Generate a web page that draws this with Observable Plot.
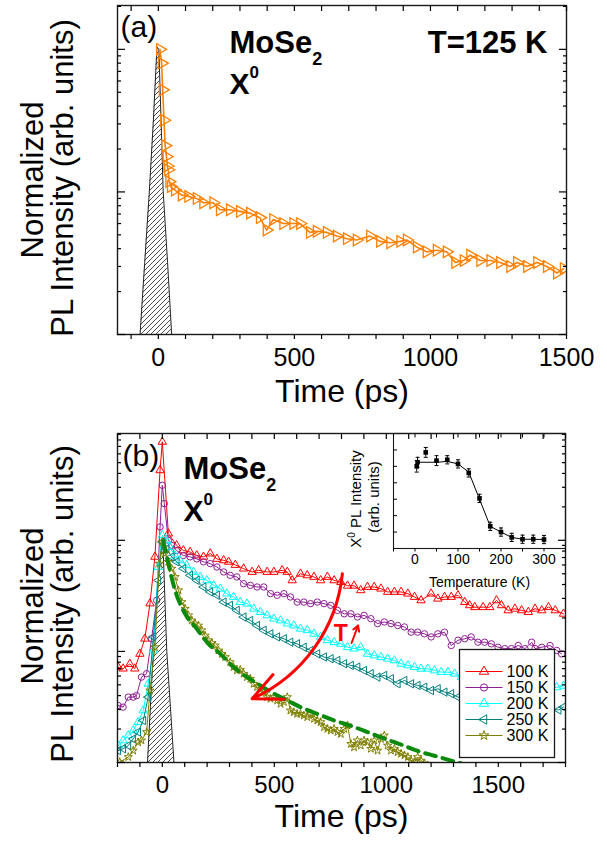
<!DOCTYPE html>
<html><head><meta charset="utf-8">
<script src="https://cdn.jsdelivr.net/npm/d3@7"></script>
<script src="https://cdn.jsdelivr.net/npm/@observablehq/plot@0.6"></script>
<style>
html,body{margin:0;padding:0;background:#fff;}
#fig{position:relative;width:607px;height:841px;overflow:hidden;background:#fff;}
</style></head><body><div id="fig"></div>
<script>
// ---------------- Panel (a): T = 125 K ----------------
const timeA = [6,12,16,21,25,30,33,36,40,46,61,86,110,141,165,202,226,263,300,337,373,398,422,459,496,521,557,582,619,656,693,729,778,815,852,889,913,950,986,1023,1060,1091,1122,1146,1183,1220,1256,1293,1318,1355,1392,1428,1465,1490];
const intA  = [1.0,0.80,0.52,0.318,0.211,0.177,0.152,0.143,0.118,0.109,0.103,0.095,0.093,0.090,0.084,0.084,0.075,0.075,0.073,0.071,0.066,0.054,0.064,0.060,0.060,0.060,0.052,0.053,0.052,0.049,0.047,0.046,0.049,0.045,0.044,0.045,0.046,0.041,0.038,0.039,0.038,0.032,0.033,0.036,0.033,0.033,0.032,0.030,0.032,0.030,0.032,0.030,0.027,0.029];
const irfTimeA = [-67,-50,-33,-18,-5,2,10,18,34,49];
const irfIntA  = [0.01,0.032,0.1,0.32,1.04,1.0,0.32,0.1,0.032,0.01];

// ---------------- Panel (b): temperature series ----------------
const seriesNames = ["100 K","150 K","200 K","250 K","300 K"];
const t100 = [-197,-175,-145,-123,-100,-78,-55,-33,-10,0,27,64,94,124,154,184,214,244,274,296,326,363,401,430,468,498,535,558,580,617,647,677,707,737,767,797,827,856,886,916,946,976,1006,1036,1066,1096,1126,1155,1200,1230,1260,1290,1320,1350,1372,1395,1432,1462,1492,1514,1544,1574,1604,1634,1664,1694,1724,1754,1791];
const v100 = [0.072,0.070,0.077,0.070,0.095,0.130,0.27,0.71,4.27,7.7,1.15,0.90,0.81,0.785,0.73,0.71,0.76,0.68,0.66,0.64,0.60,0.556,0.519,0.537,0.519,0.519,0.537,0.519,0.436,0.50,0.484,0.468,0.436,0.468,0.436,0.42,0.39,0.39,0.355,0.38,0.38,0.367,0.343,0.343,0.343,0.331,0.309,0.288,0.331,0.298,0.309,0.309,0.32,0.278,0.26,0.25,0.25,0.25,0.288,0.26,0.234,0.242,0.234,0.226,0.242,0.234,0.25,0.234,0.218];
const t150 = [-197,-175,-152,-130,-115,-93,-70,-48,-25,-10,0,9,27,42,64,94,124,154,184,214,244,274,303,333,363,393,423,453,483,513,543,572,602,632,662,692,722,752,782,812,842,871,901,931,961,991,1021,1051,1081,1111,1140,1170,1200,1230,1260,1290,1320,1350,1379,1409,1439,1469,1499,1529,1559,1589,1619,1649,1664,1694,1731,1761,1783];
const v150 = [0.0326,0.0315,0.0388,0.0388,0.040,0.0587,0.063,0.130,0.288,1.32,3.13,2.14,1.0,0.90,0.81,0.73,0.71,0.68,0.64,0.617,0.575,0.519,0.484,0.468,0.407,0.393,0.38,0.38,0.331,0.32,0.331,0.309,0.278,0.278,0.269,0.278,0.269,0.26,0.234,0.218,0.218,0.204,0.211,0.197,0.178,0.184,0.178,0.171,0.166,0.149,0.149,0.144,0.135,0.144,0.149,0.113,0.126,0.130,0.135,0.121,0.121,0.117,0.109,0.106,0.106,0.113,0.106,0.121,0.106,0.109,0.113,0.102,0.095];
const t200 = [-197,-175,-152,-130,-108,-85,-63,-40,-18,0,19,34,57,79,109,139,169,199,229,259,288,318,348,378,408,438,468,498,528,558,587,617,647,677,707,737,767,797,827,856,886,916,946,976,1006,1036,1066,1096,1126,1155,1185,1215,1245,1275,1305,1335,1364,1409,1454,1499,1544,1589,1634,1679,1723,1761,1791];
const v200 = [0.0142,0.0158,0.0175,0.0194,0.0231,0.0294,0.0511,0.102,0.575,1.11,1.0,0.87,0.73,0.66,0.596,0.519,0.468,0.436,0.393,0.367,0.331,0.309,0.278,0.269,0.242,0.226,0.211,0.197,0.19,0.178,0.171,0.16,0.155,0.144,0.135,0.126,0.121,0.117,0.109,0.106,0.109,0.095,0.092,0.089,0.086,0.083,0.0774,0.0748,0.0723,0.0698,0.0698,0.0674,0.0651,0.0651,0.063,0.0587,0.0587,0.0567,0.0548,0.053,0.052,0.051,0.050,0.049,0.048,0.0475,0.049];
const t250 = [-197,-175,-152,-130,-108,-85,-63,-40,-18,0,19,42,64,94,124,154,184,214,244,274,303,333,363,393,423,453,483,513,543,572,602,632,662,692,722,752,782,812,842,871,901,931,961,991,1021,1051,1081,1111,1140,1170,1200,1230,1260,1290,1320,1364,1409,1454,1499,1544,1589,1634,1679,1723,1769,1791];
const v250 = [0.0128,0.0133,0.0142,0.0163,0.0188,0.0239,0.0388,0.135,0.436,0.966,0.84,0.71,0.64,0.556,0.484,0.436,0.38,0.343,0.32,0.278,0.26,0.234,0.204,0.19,0.171,0.155,0.144,0.135,0.13,0.121,0.117,0.109,0.102,0.095,0.089,0.086,0.083,0.0774,0.0748,0.0723,0.0674,0.063,0.0587,0.0608,0.0567,0.0511,0.0548,0.0511,0.0494,0.0477,0.0445,0.0461,0.043,0.0416,0.0388,0.0375,0.0362,0.035,0.0338,0.0333,0.0324,0.0319,0.031,0.0304,0.0297,0.0316];
const t300 = [-190,-152,-130,-108,-93,-70,-55,-33,-13,0,12,27,42,57,72,87,102,117,132,146,161,176,191,206,221,236,251,266,281,303,318,333,348,363,378,393,408,423,438,453,468,483,498,513,528,543,558,572,587,602,617,632,647,662,677,692,707,722,737,752,767,782,797,812,827,842,856,871,886,901,916,931,946,961,976,991,1006,1021,1036,1051,1066,1081,1096,1111,1126,1140,1155,1170,1185];
const v300 = [0.0101,0.0112,0.0128,0.0152,0.0158,0.0188,0.0445,0.109,0.617,0.966,0.76,0.64,0.556,0.468,0.355,0.278,0.242,0.211,0.19,0.178,0.171,0.155,0.139,0.126,0.119,0.113,0.102,0.095,0.089,0.080,0.0723,0.0674,0.0684,0.063,0.0587,0.0567,0.0511,0.0477,0.0461,0.043,0.0388,0.0375,0.0388,0.0362,0.0338,0.035,0.0388,0.0294,0.0284,0.0274,0.0274,0.0265,0.0256,0.0274,0.0247,0.0239,0.0231,0.0208,0.0201,0.0194,0.0201,0.0188,0.0181,0.0201,0.0216,0.0147,0.0137,0.0158,0.0142,0.0158,0.0152,0.0133,0.0158,0.0128,0.0163,0.0175,0.0142,0.0128,0.0133,0.0124,0.012,0.0116,0.0112,0.0104,0.0101,0.0112,0.0104,0.0098,0.0094];
const tFit = [4,27,57,102,154,206,259,318,378,438,498,558,617,692,767,842,916,991,1066,1140,1215,1290,1335];
const vFit = [0.99,0.617,0.355,0.218,0.160,0.117,0.095,0.0723,0.0587,0.0494,0.0416,0.0362,0.0315,0.0274,0.0239,0.0214,0.0188,0.0164,0.0145,0.0127,0.0115,0.0104,0.0098];
const irfTimeB = [-66,-53,-40,-24,-3,3,11,20,36,52];
const irfIntB  = [0.01,0.032,0.1,0.32,1.0,0.95,0.32,0.1,0.032,0.01];

// annotations (data coordinates)
const bigArrow = [{t1: 804, v1: 0.50, t2: 401, v2: 0.0375}];
const smallArrow = [{t1: 845, v1: 0.119, t2: 874, v2: 0.171}];
const tLabel = [{t: 797, v: 0.144, label: "T"}];

// ---------------- Inset ----------------
const insetT   = [4,6,25,50,75,100,125,150,175,200,225,250,275,300];
const insetV   = [1.00,1.05,1.17,1.07,1.08,1.03,0.92,0.61,0.27,0.20,0.135,0.113,0.113,0.109];
const insetErr = [0.07,0.06,0.06,0.06,0.05,0.05,0.05,0.05,0.05,0.05,0.05,0.05,0.05,0.05];
const insetFitT = [4,50,75,100,125,150,175,200,225,250,300];
const insetFitV = [1.05,1.05,1.06,1.03,0.93,0.60,0.27,0.20,0.135,0.113,0.11];

// ---------------- ticks ----------------
const xMajorA = [0,500,1000,1500];
const xMinorA = [-100,0,100,200,300,400,500,600,700,800,900,1000,1100,1200,1300,1400,1500];
const xMajorB = [0,500,1000,1500];
const xMinorB = [-200,-100,0,100,200,300,400,500,600,700,800,900,1000,1100,1200,1300,1400,1500,1600,1700,1800];
const yMajor = [0.01,0.1,1];
const insetXTicks = [-50,0,50,100,150,200,250,300,350];
const insetXLabels = [0,100,200,300];
const insetYTicks = [0.2,0.4,0.6,0.8,1.0,1.2];

// ---------------- helpers ----------------
const FONT = '"Liberation Sans", Arial, Helvetica, sans-serif';
function logMinor(lo, hi){ const out=[]; for (let d=lo; d<hi; d*=10) for (let k=2;k<=9;k++){ const v=+(k*d).toPrecision(3); if (v<=hi) out.push(v);} return out; }
const s3 = Math.sqrt(3);
const triRight = {draw(c, size){ const h=Math.sqrt(size/(3*s3)); c.moveTo(2*h,0); c.lineTo(-h,-s3*h); c.lineTo(-h,s3*h); c.closePath(); }};
const triLeft  = {draw(c, size){ const h=Math.sqrt(size/(3*s3)); c.moveTo(-2*h,0); c.lineTo(h,-s3*h); c.lineTo(h,s3*h); c.closePath(); }};
const hbar = {draw(c, size){ const w=Math.sqrt(size/Math.PI); c.moveTo(-w,0); c.lineTo(w,0); }};
const rows = (ts, vs) => ts.map((t,i)=>({t, v: vs[i]}));
const noText = () => "";

function frameTicks(xMaj, xMin, yMaj, yMin, fs, pad){
  return [
    Plot.axisX(xMin, {anchor:"bottom", tickSize:5, tickFormat:noText, label:null, strokeWidth:1.2}),
    Plot.axisX(xMin, {anchor:"top", tickSize:-5, tickFormat:noText, label:null, strokeWidth:1.2}),
    Plot.axisX(xMaj, {anchor:"bottom", tickSize:0, tickPadding:pad, fontSize:fs, label:null, tickFormat: d => String(d)}),
    Plot.axisY(yMaj, {anchor:"left", tickSize:-8, tickFormat:noText, label:null, strokeWidth:1.2}),
    Plot.axisY(yMin, {anchor:"left", tickSize:-4, tickFormat:noText, label:null, strokeWidth:1.2}),
    Plot.axisY(yMaj, {anchor:"right", tickSize:-8, tickFormat:noText, label:null, strokeWidth:1.2}),
    Plot.axisY(yMin, {anchor:"right", tickSize:-4, tickFormat:noText, label:null, strokeWidth:1.2})
  ];
}
function addHatch(svg, id){
  const p = d3.select(svg).insert("defs", ":first-child").append("pattern")
    .attr("id", id).attr("patternUnits","userSpaceOnUse").attr("width",5).attr("height",5);
  p.append("rect").attr("width",5).attr("height",5).attr("fill","#fff");
  p.append("path").attr("d","M-1,1L1,-1M0,5L5,0M4,6L6,4").attr("stroke","#000").attr("stroke-width",0.7);
}
function richText(svg){
  d3.select(svg).selectAll("text").each(function(){
    const s = this.textContent;
    if (s === "MoSe2") { this.textContent = "MoSe"; d3.select(this).append("tspan").attr("dy", 12).attr("font-size", 18).text("2"); }
    else if (s === "X0") { this.textContent = "X"; d3.select(this).append("tspan").attr("dy", -16).attr("font-size", 17).text("0"); }
    else if (s === "X0 PL Intensity") { this.textContent = "X"; const t=d3.select(this);
      t.append("tspan").attr("dy", -6).attr("font-size", 10).text("0");
      t.append("tspan").attr("dy", 6).attr("font-size", 15).text(" PL Intensity"); }
  });
}
function labels(opts){
  const m = [];
  m.push(Plot.text([opts.panel], {frameAnchor:"top-left", dx:opts.pdx, dy:opts.pdy, textAnchor:"start", lineAnchor:"bottom", fontSize:30, fill:"#000"}));
  m.push(Plot.text(["MoSe2"], {frameAnchor:"top-left", dx:opts.mdx, dy:opts.mdy, textAnchor:"start", lineAnchor:"bottom", fontSize:31, fontWeight:"bold", fill:"#000"}));
  m.push(Plot.text(["X0"], {frameAnchor:"top-left", dx:opts.mdx, dy:opts.xdy, textAnchor:"start", lineAnchor:"bottom", fontSize:30, fontWeight:"bold", fill:"#000"}));
  m.push(Plot.text(["Normalized"], {frameAnchor:"left", rotate:-90, dx:-75, dy:opts.ldy, textAnchor:"middle", lineAnchor:"bottom", fontSize:31, fill:"#000"}));
  m.push(Plot.text(["PL Intensity (arb. units)"], {frameAnchor:"left", rotate:-90, dx:-45, dy:opts.ldy-2, textAnchor:"middle", lineAnchor:"bottom", fontSize:31, fill:"#000"}));
  m.push(Plot.text(["Time (ps)"], {frameAnchor:"bottom", dy:opts.tdy, textAnchor:"middle", lineAnchor:"middle", fontSize:32, fill:"#000"}));
  return m;
}
const fig = document.getElementById("fig");

// ---------------- Panel (a) ----------------
const plotA = Plot.plot({
  width: 607, height: 420,
  marginTop: 5, marginRight: 41, marginBottom: 86, marginLeft: 117,
  style: {fontFamily: FONT, background: "transparent", overflow: "visible", position: "absolute", left: "0px", top: "0px"},
  x: {domain: [-150, 1500]},
  y: {type: "log", domain: [0.01, 2.03]},
  marks: [
    Plot.areaY(rows(irfTimeA, irfIntA), {x:"t", y1: () => 0.001, y2:"v", fill:"url(#hatchA)", clip:true}),
    Plot.line(rows(irfTimeA, irfIntA), {x:"t", y:"v", stroke:"#222", strokeWidth:1, clip:true}),
    Plot.line(rows(timeA, intA), {x:"t", y:"v", stroke:"#ff8000", strokeWidth:1.6, clip:true}),
    Plot.dot(rows(timeA, intA), {x:"t", y:"v", symbol: triRight, r:4.3, stroke:"#ff8000", fill:"none", strokeWidth:1.3, clip:true}),
    Plot.frame({stroke:"#1a1a1a", strokeWidth:1.4}),
    ...frameTicks(xMajorA, xMinorA, yMajor, logMinor(0.01, 2.03), 25, 14),
    ...labels({panel:"(a)", pdx:3, pdy:31, mdx:112, mdy:47, xdy:88, ldy:10, tdy:57}),
    Plot.text(["T=125 K"], {frameAnchor:"top-right", dx:-19, dy:47, textAnchor:"end", lineAnchor:"bottom", fontSize:31, fontWeight:"bold", fill:"#000"})
  ]
});
addHatch(plotA, "hatchA"); richText(plotA);
fig.appendChild(plotA);

// ---------------- Panel (b) ----------------
const seriesB = [
  {name: seriesNames[0], t: t100, v: v100, color: "#ff0000", symbol: "triangle", r: 3.1},
  {name: seriesNames[1], t: t150, v: v150, color: "#8e1f94", symbol: "circle", r: 3.2},
  {name: seriesNames[2], t: t200, v: v200, color: "#00ffff", symbol: "triangle", r: 3.1},
  {name: seriesNames[3], t: t250, v: v250, color: "#008080", symbol: triLeft, r: 3.1},
  {name: seriesNames[4], t: t300, v: v300, color: "#808000", symbol: "star", r: 2.6}
];
const plotB = Plot.plot({
  width: 607, height: 421,
  marginTop: 13, marginRight: 42, marginBottom: 79, marginLeft: 117,
  style: {fontFamily: FONT, background: "transparent", overflow: "visible", position: "absolute", left: "0px", top: "420px"},
  x: {domain: [-200, 1800]},
  y: {type: "log", domain: [0.01, 9.15]},
  marks: [
    Plot.areaY(rows(irfTimeB, irfIntB), {x:"t", y1: () => 0.001, y2:"v", fill:"url(#hatchB)", clip:true}),
    Plot.line(rows(irfTimeB, irfIntB), {x:"t", y:"v", stroke:"#222", strokeWidth:1, clip:true}),
    ...seriesB.flatMap(s => [
      Plot.line(rows(s.t, s.v), {x:"t", y:"v", stroke:s.color, strokeWidth:1, clip:true}),
      Plot.dot(rows(s.t, s.v), {x:"t", y:"v", symbol:s.symbol, r:s.r, stroke:s.color, fill:"none", strokeWidth:1, clip:true})
    ]),
    Plot.line(rows(tFit, vFit), {x:"t", y:"v", stroke:"#0a8a0a", strokeWidth:4, strokeDasharray:"11,7", curve:"monotone-x", clip:true}),
    Plot.arrow(bigArrow, {x1:"t1", y1:"v1", x2:"t2", y2:"v2", bend:30, stroke:"#ff0000", strokeWidth:3, headLength:16, headAngle:50}),
    Plot.arrow(smallArrow, {x1:"t1", y1:"v1", x2:"t2", y2:"v2", stroke:"#ff0000", strokeWidth:2, headLength:7, headAngle:60}),
    Plot.text(tLabel, {x:"t", y:"v", text:"label", fill:"#ff0000", fontSize:23, fontWeight:"bold", lineAnchor:"middle"}),
    Plot.frame({stroke:"#1a1a1a", strokeWidth:1.4}),
    ...frameTicks(xMajorB, xMinorB, yMajor, logMinor(0.01, 9.15), 24, 13),
    ...labels({panel:"(b)", pdx:5, pdy:32, mdx:66, mdy:45, xdy:87, ldy:8, tdy:54})
  ]
});
addHatch(plotB, "hatchB"); richText(plotB);
fig.appendChild(plotB);

// ---------------- Inset ----------------
const insetRows = insetT.map((T,i)=>({T, v: insetV[i], e: insetErr[i]}));
const insetPlot = Plot.plot({
  width: 270, height: 200,
  marginTop: 13, marginRight: 42, marginBottom: 72, marginLeft: 56,
  style: {fontFamily: FONT, background: "transparent", overflow: "visible", position: "absolute", left: "337px", top: "420px"},
  x: {domain: [-50, 350]},
  y: {domain: [0, 1.4]},
  marks: [
    Plot.frame({stroke:"#1a1a1a", strokeWidth:1.1}),
    Plot.axisX(insetXTicks, {anchor:"bottom", tickSize:3.5, tickFormat:noText, label:null}),
    Plot.axisX(insetXTicks, {anchor:"top", tickSize:-3.5, tickFormat:noText, label:null}),
    Plot.axisX(insetXLabels, {anchor:"bottom", tickSize:0, tickPadding:6, fontSize:14, label:null, tickFormat: d => String(d)}),
    Plot.axisY(insetYTicks, {anchor:"left", tickSize:-4, tickFormat:noText, label:null}),
    Plot.line(insetFitT.map((T,i)=>({T, v: insetFitV[i]})), {x:"T", y:"v", stroke:"#000", strokeWidth:1}),
    Plot.ruleX(insetRows, {x:"T", y1: d => d.v - d.e, y2: d => d.v + d.e, stroke:"#000", strokeWidth:1}),
    Plot.dot(insetRows, {x:"T", y: d => d.v + d.e, symbol: hbar, r:2, stroke:"#000", strokeWidth:1}),
    Plot.dot(insetRows, {x:"T", y: d => d.v - d.e, symbol: hbar, r:2, stroke:"#000", strokeWidth:1}),
    Plot.dot(insetRows, {x:"T", y:"v", symbol:"square", r:2.6, fill:"#000"}),
    Plot.text(["Temperature (K)"], {frameAnchor:"bottom", dy:34, textAnchor:"middle", lineAnchor:"middle", fontSize:14, fill:"#000"}),
    Plot.text(["X0 PL Intensity"], {frameAnchor:"left", rotate:-90, dx:-33, dy:8, textAnchor:"middle", lineAnchor:"bottom", fontSize:15, fill:"#000"}),
    Plot.text(["(arb. units)"], {frameAnchor:"left", rotate:-90, dx:-15, dy:6, textAnchor:"middle", lineAnchor:"bottom", fontSize:15, fill:"#000"})
  ]
});
richText(insetPlot);
fig.appendChild(insetPlot);

// ---------------- Legend ----------------
const legendPlot = Plot.plot({
  width: 95, height: 108, margin: 0,
  style: {fontFamily: FONT, background: "#fff", overflow: "visible", position: "absolute", left: "459px", top: "649px"},
  x: {domain: [0, 95], range: [0, 95], axis: null},
  y: {type: "point", domain: seriesNames, range: [14, 94], axis: null},
  marks: [
    ...seriesB.flatMap(s => [
      Plot.link([s.name], {x1: 6, x2: 43, y1: d => d, y2: d => d, stroke: s.color, strokeWidth: 1}),
      Plot.dot([s.name], {x: 24.5, y: d => d, symbol: s.symbol, r: s.r + 0.4, stroke: s.color, fill: "none", strokeWidth: 1}),
      Plot.text([s.name], {x: 47, y: d => d, text: d => d, textAnchor: "start", lineAnchor: "middle", fontSize: 16, fill: "#000"})
    ]),
    Plot.frame({stroke:"#1a1a1a", strokeWidth:1.3})
  ]
});
fig.appendChild(legendPlot);
</script></body></html>
